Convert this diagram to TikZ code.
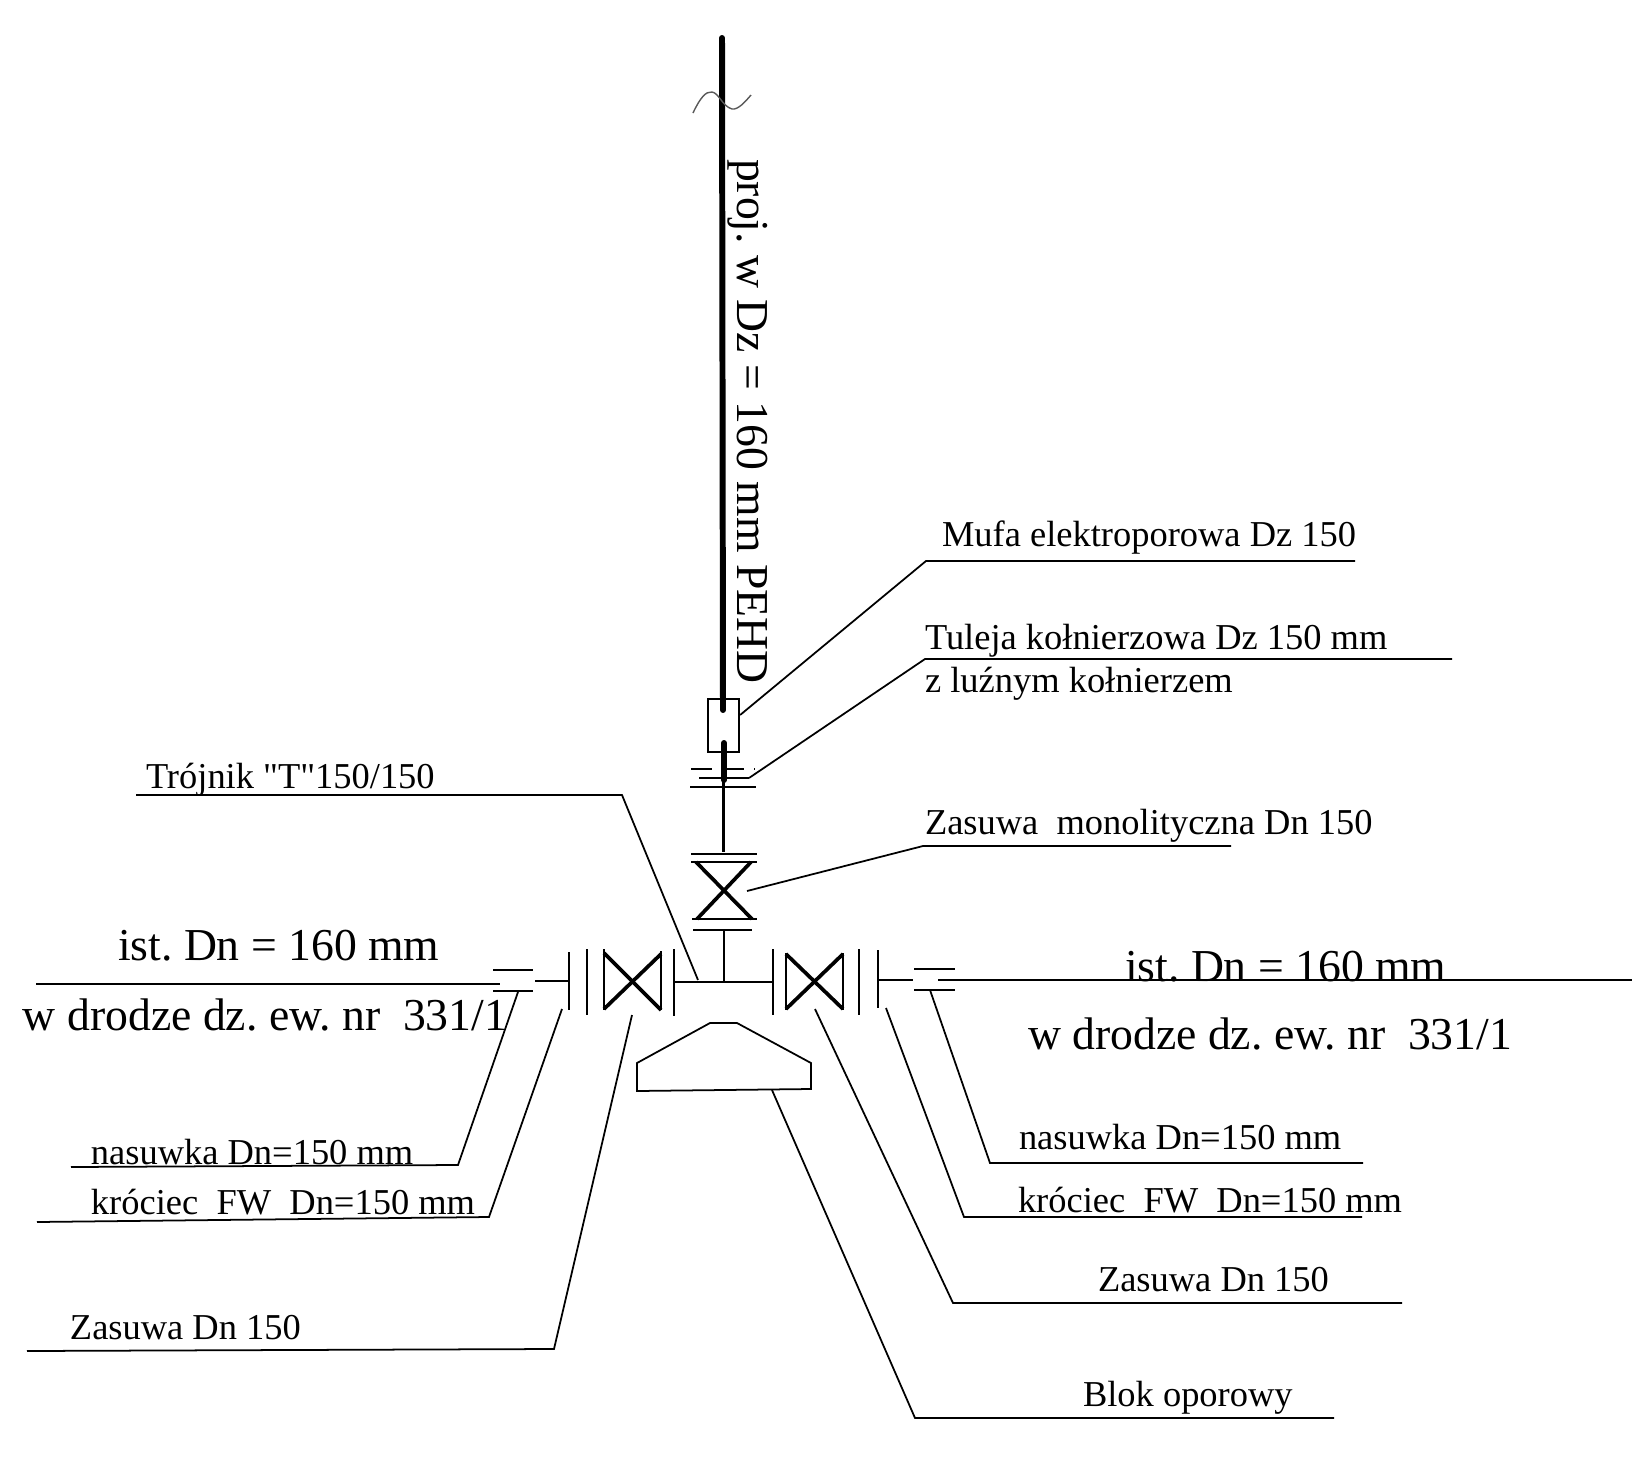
\documentclass[tikz,border=0pt]{standalone}
\usepackage{fontspec}
\setmainfont{Liberation Serif}
\newfontfamily\plainserif{Liberation Serif}
\frenchspacing
\tikzset{
  x=0.02cm,y=-0.02cm,
  thinl/.style={line width=1pt,line join=miter},
  part/.style={line width=1.2pt},
  heavy/.style={line width=2.1pt},
  pipe/.style={line width=3.4pt,line cap=round},
  lbl/.style={anchor=base west,inner sep=0pt,outer sep=0pt,font=\fontsize{20.75}{25}\selectfont},
  big/.style={anchor=base west,inner sep=0pt,outer sep=0pt,font=\fontsize{26}{30}\selectfont},
}
\begin{document}
\begin{tikzpicture}
\useasboundingbox (0,0) rectangle (1641,1458);
% labels
\node[lbl] (mufa) at (942,546) {Mufa elektroporowa Dz 150};
\node[lbl] (tul) at (925,649) {Tuleja kołnierzowa Dz 150 mm};
\node[lbl] (luz) at (925,692) {z luźnym kołnierzem};
\node[lbl] (tro) at (146,788) {\plainserif Trójnik "T"150/150};
\node[lbl] (zmon) at (925,834) {Zasuwa\ \ monolityczna Dn 150};
\node[big] (istl) at (118,960) {ist. Dn = 160 mm};
\node[big] (drol) at (23,1030) {w drodze dz. ew. nr\ \ 331/1};
\node[big] (istr) at (1125,981) {ist. Dn = 160 mm};
\node[big] (dror) at (1028,1049) {w drodze dz. ew. nr\ \ 331/1};
\node[lbl] (nasl) at (91,1164) {nasuwka Dn=150 mm};
\node[lbl] (krol) at (91,1214) {króciec\ \ FW\ \ Dn=150 mm};
\node[lbl] (zasl) at (70,1339) {Zasuwa Dn 150};
\node[lbl] (nasr) at (1019,1149) {nasuwka Dn=150 mm};
\node[lbl] (kror) at (1018,1212) {króciec\ \ FW\ \ Dn=150 mm};
\node[lbl] (zasr) at (1098,1291) {Zasuwa Dn 150};
\node[lbl] (blok) at (1083,1406) {Blok oporowy};
\node[big,rotate=-90] (proj) at (737,159) {proj. w Dz = 160 mm PEHD};
% vertical pipe
\coordinate (ptop) at (722,38);
\coordinate (pmid) at (723,710);
\coordinate (plow) at (724,743);
\coordinate (pend) at (724,780);
\coordinate (pthin) at (723.5,780);
\coordinate (vtop) at (723.5,852);
\draw[pipe] (ptop) -- (pmid);
\draw[pipe] (plow) -- (pend);
\draw[part] (pthin) -- (vtop);
\draw[gray!70!black,line width=0.8pt] (693,113) .. controls (700,98) and (706,91) .. (712,92) .. controls (719,93) and (722,106) .. (732,109) .. controls (738,110) and (745,102) .. (751,95);
% sleeve
\node[draw,part,minimum width=0.62cm,minimum height=1.06cm,inner sep=0pt,anchor=north west] (sleeve) at (707,698) {};
% flanged bush
\coordinate (fa) at (691,769); \coordinate (fb) at (755,769);
\draw[part,dash pattern=on 12pt off 6pt] (fa) -- (fb);
\coordinate (fc) at (699,778); \coordinate (fd) at (749,778);
\draw[part] (fc) -- (fd);
\coordinate (fe) at (690,787); \coordinate (ff) at (756,787);
\draw[part] (fe) -- (ff);
% top valve
\draw[part] (691,854) -- (757,854);
\draw[part] (691,862) -- (757,862);
\draw[part] (692,919) -- (757,919);
\draw[heavy] (696,862) -- (752,919);
\draw[heavy] (751,862) -- (697,919);
\draw[part] (693,930) -- (752,930);
% tee
\coordinate (tc) at (724,982);
\draw[part] (724,930) -- (tc);
\draw[part] (674,982) -- (773,982);
\draw[part] (674,949) -- (674,1016);
\draw[part] (773,949) -- (773,1015);
% left valve
\draw[part] (604,949) -- (604,1010);
\draw[part] (661,951) -- (661,1010);
\draw[heavy] (604,953) -- (661,1010);
\draw[heavy] (661,954) -- (604,1009);
\draw[part] (587,949) -- (587,1015);
\draw[part] (569,952) -- (569,1010);
\draw[part] (535,981) -- (569,981);
% left coupling
\draw[part] (493,970) -- (533,970);
\draw[part] (493,991) -- (533,991);
\draw[part] (36,984) -- (500,984);
% right valve
\draw[part] (786,953) -- (786,1010);
\draw[part] (843,953) -- (843,1010);
\draw[heavy] (786,954) -- (843,1009);
\draw[heavy] (843,954) -- (786,1009);
\draw[part] (859,949) -- (859,1015);
\draw[part] (878,950) -- (878,1008);
\draw[part] (878,980) -- (913,980);
% right coupling
\draw[part] (914,969) -- (955,969);
\draw[part] (914,990) -- (955,990);
\draw[part] (938,980) -- (1632,980);
% thrust block
\draw[thinl] (637,1063) -- (710,1023) -- (737,1023) -- (811,1063) -- (811,1089) -- (637,1091) -- cycle;
% leaders
\draw[thinl] (sleeve.east |- 0,715) -- (926,561) -- (1355,561);
\draw[thinl] (fd) -- (925,659) -- (1452,659);
\draw[thinl] (747,891) -- (923,846) -- (1231,846);
\draw[thinl] (136,795) -- (622,795) -- (698,980);
\draw[thinl] (518,992) -- (458,1165) -- (71,1167);
\draw[thinl] (562,1009) -- (489,1217) -- (37,1222);
\draw[thinl] (632,1015) -- (554,1349) -- (27,1351);
\draw[thinl] (815,1009) -- (953,1303) -- (1402,1303);
\draw[thinl] (886,1008) -- (964,1217) -- (1362,1217);
\draw[thinl] (930,990) -- (990,1163) -- (1363,1163);
\draw[thinl] (772,1090) -- (915,1418) -- (1334,1418);
\end{tikzpicture}
\end{document}
